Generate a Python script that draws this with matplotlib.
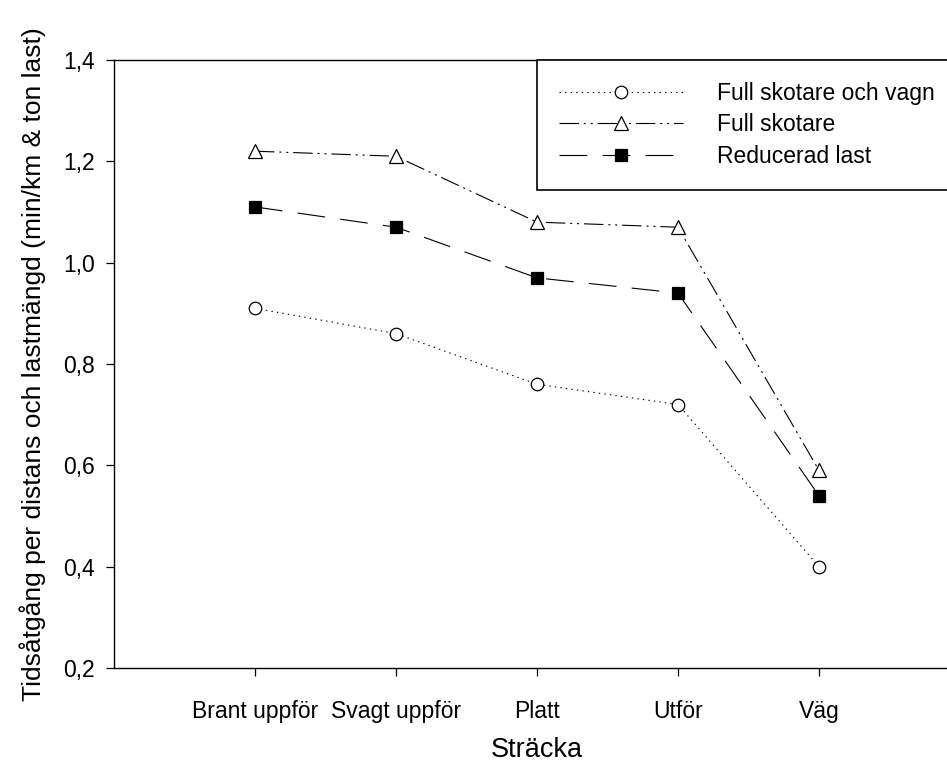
import matplotlib
matplotlib.use("Agg")
import matplotlib.pyplot as plt

categories = ["Brant uppför", "Svagt uppför", "Platt", "Utför", "Väg"]
full_skotare_och_vagn = [0.91, 0.86, 0.76, 0.72, 0.40]
full_skotare = [1.22, 1.21, 1.08, 1.07, 0.59]
reducerad_last = [1.11, 1.07, 0.97, 0.94, 0.54]
series_names = ["Full skotare och vagn", "Full skotare", "Reducerad last"]
yticks = [0.2, 0.4, 0.6, 0.8, 1.0, 1.2, 1.4]
ytick_labels = ["0,2", "0,4", "0,6", "0,8", "1,0", "1,2", "1,4"]

plt.rcParams['font.family'] = ['Liberation Sans', 'DejaVu Sans']
plt.rcParams['lines.scale_dashes'] = False

W, H = 947, 769
fig = plt.figure(figsize=(W / 100, H / 100), dpi=100)
ax = fig.add_axes([114 / W, (H - 668) / H, 846 / W, 608 / H])

x = list(range(1, len(categories) + 1))
lw = 0.8
ax.plot(x, full_skotare_och_vagn, color='black', lw=lw, dashes=(1, 3),
        marker='o', ms=9, mfc='white', mec='black', mew=0.9, label=series_names[0])
ax.plot(x, full_skotare, color='black', lw=lw, dashes=(14, 3.5, 1.5, 3.5, 1.5, 3.5),
        marker='^', ms=9.5, mfc='white', mec='black', mew=0.9, label=series_names[1])
ax.plot(x, reducerad_last, color='black', lw=lw, dashes=(20, 11),
        marker='s', ms=8.5, mfc='black', mec='black', mew=0.9, label=series_names[2])

ax.set_xlim(0, 6)
ax.set_ylim(0.2, 1.4)
ax.set_xticks(x)
ax.set_xticklabels(categories, fontsize=16.5)
ax.set_yticks(yticks)
ax.set_yticklabels(ytick_labels, fontsize=16.5)
ax.tick_params(direction='out', length=6, width=0.9, pad=8)
ax.tick_params(axis='x', pad=17)
for s in ['left', 'bottom', 'top', 'right']:
    ax.spines[s].set_linewidth(1.0)

ax.set_xlabel("Sträcka", fontsize=19.5, labelpad=10)
ax.set_ylabel("Tidsåtgång per distans och lastmängd (min/km & ton last)", fontsize=19, labelpad=12)

leg = ax.legend(loc='upper left', bbox_to_anchor=(537 / W, 0, 0.7, 1 - 60 / H),
                bbox_transform=fig.transFigure, mode='expand', fontsize=16.5,
                handlelength=5.4, handletextpad=1.5, borderpad=0.95, labelspacing=0.38,
                numpoints=1, fancybox=False, framealpha=1, borderaxespad=0)
leg.get_frame().set_edgecolor('black')
leg.get_frame().set_linewidth(1.2)

fig.savefig("out.png", dpi=100)
